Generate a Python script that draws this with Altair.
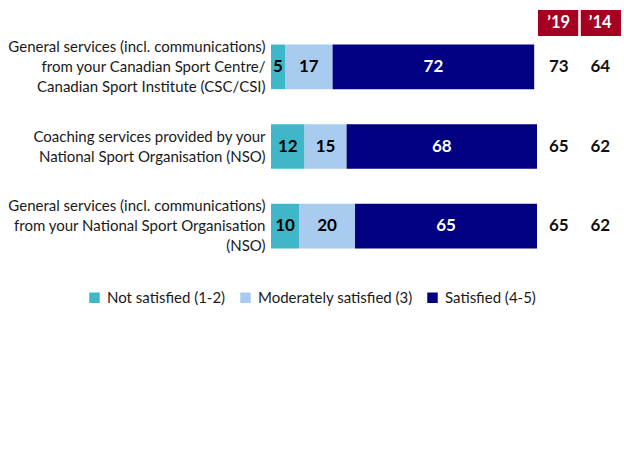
import altair as alt
import pandas as pd

items = [
    "General services (incl. communications)|from your Canadian Sport Centre/|Canadian Sport Institute (CSC/CSI)",
    "Coaching services provided by your|National Sport Organisation (NSO)",
    "General services (incl. communications)|from your National Sport Organisation|(NSO)",
]
categories = ["Not satisfied (1-2)", "Moderately satisfied (3)", "Satisfied (4-5)"]
not_satisfied = [5, 12, 10]
moderately = [17, 15, 20]
satisfied = [72, 68, 65]
years = ["\u201919", "\u201914"]
sat_2019 = [73, 65, 65]
sat_2014 = [64, 62, 62]

colors = ["#40B7C9", "#A9CBEF", "#000080"]
FONT = "Lato"

rows = []
for i, it in enumerate(items):
    for k, (cat, vals) in enumerate(zip(categories, [not_satisfied, moderately, satisfied])):
        rows.append({"item": it, "cat": cat, "order": k, "value": vals[i],
                     "tcol": "white" if k == 2 else "black"})
df = pd.DataFrame(rows)

yr_rows = []
for i, it in enumerate(items):
    yr_rows.append({"item": it, "year": years[0], "v": sat_2019[i]})
    yr_rows.append({"item": it, "year": years[1], "v": sat_2014[i]})
dy = pd.DataFrame(yr_rows)
dh = pd.DataFrame({"year": years})

yscale = alt.Scale(domain=items, paddingInner=0.44, paddingOuter=0.22)
xs = alt.Scale(domain=[0, 95], range=[0, 266], nice=False, zero=True)
yrscale = alt.Scale(domain=years, range=[267, 350], paddingInner=0.06, paddingOuter=0)

base = alt.Chart(df).transform_stack(
    stack="value", groupby=["item"], as_=["x0", "x1"], sort=[alt.SortField("order")]
).transform_calculate(mid="(datum.x0 + datum.x1) / 2")

label_offset = {
    "condition": {"test": "length(split(datum.value, '|')) == 2", "value": -10},
    "value": -20,
}

bars = base.mark_bar().encode(
    y=alt.Y("item:N", scale=yscale, sort=items,
            axis=alt.Axis(title=None, domain=False, ticks=False, labelPadding=6,
                          labelExpr="split(datum.value, '|')", labelFontSize=15,
                          labelFont=FONT, labelColor="#1a1a1a", labelLimit=400,
                          labelLineHeight=20, labelOffset=label_offset, grid=False)),
    x=alt.X("x0:Q", scale=xs, axis=None),
    x2="x1:Q",
    color=alt.Color("cat:N", scale=alt.Scale(domain=categories, range=colors),
                    legend=alt.Legend(title=None, orient="none", direction="horizontal",
                                      legendX=-184, legendY=263, symbolType="square",
                                      symbolSize=110, symbolStrokeWidth=0,
                                      labelFontSize=15, labelFont=FONT, labelColor="#1a1a1a",
                                      columnPadding=12, symbolOffset=0, padding=0,
                                      labelOffset=5)),
    order=alt.Order("order:Q"),
)

labels = base.mark_text(fontSize=17, fontWeight="bold", font=FONT).encode(
    y=alt.Y("item:N", scale=yscale, sort=items),
    x=alt.X("mid:Q", scale=xs, axis=None),
    text="value:Q",
    color=alt.Color("tcol:N", scale=None),
)

yr_text = alt.Chart(dy).mark_text(fontSize=17, fontWeight="bold", font=FONT, color="#111").encode(
    y=alt.Y("item:N", scale=yscale, sort=items),
    x=alt.X("year:N", scale=yrscale, sort=years, axis=None),
    text="v:Q",
)

hdr_rect = alt.Chart(dh).mark_bar(color="#A50021").encode(
    x=alt.X("year:N", scale=yrscale, sort=years, axis=None),
    y=alt.value(-17), y2=alt.value(9),
)
hdr_text = alt.Chart(dh).mark_text(fontSize=16.5, fontWeight="bold", font=FONT, color="white").encode(
    x=alt.X("year:N", scale=yrscale, sort=years, axis=None),
    y=alt.value(-4),
    text="year:N",
)

chart = alt.layer(bars, labels, yr_text, hdr_rect, hdr_text).resolve_scale(
    x="independent"
).properties(
    width=353, height=239,
    background="white",
    autosize=alt.AutoSizeParams(type="none"),
    padding={"left": 271, "top": 27, "right": 0, "bottom": 202},
).configure_view(stroke=None).configure_axis(grid=False)

chart.save("out.html", embed_options={"renderer": "svg", "actions": False})
